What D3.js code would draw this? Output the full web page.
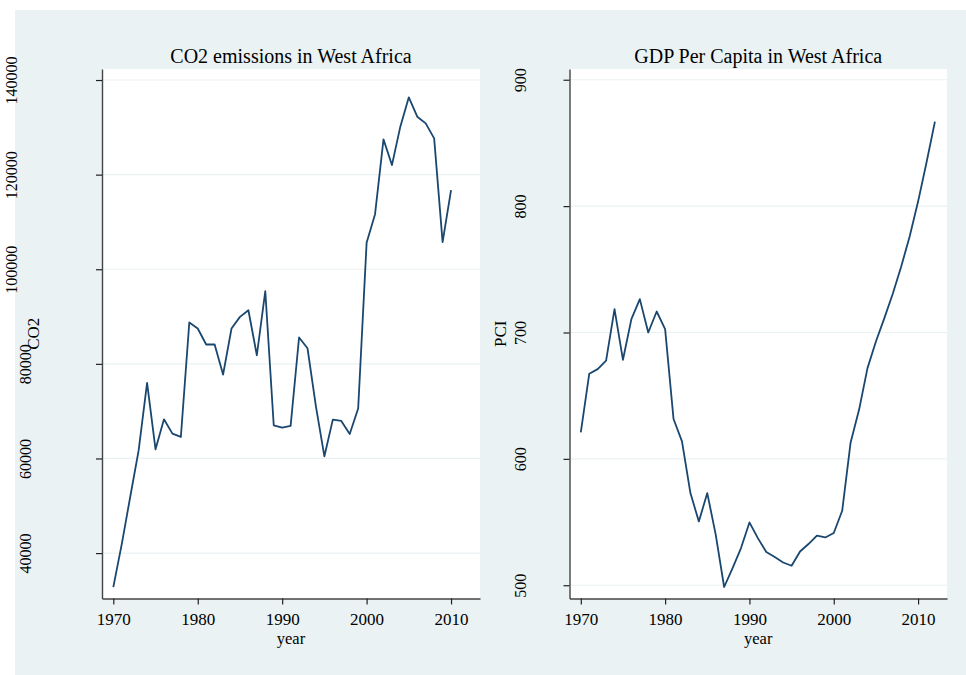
<!DOCTYPE html>
<html>
<head>
<meta charset="utf-8">
<script src="https://cdn.jsdelivr.net/npm/d3@7"></script>
<style>
  body { margin: 0; background: #fff; }
  text { font-family: "Liberation Serif", "Times New Roman", serif; fill: #000; }
</style>
</head>
<body>
<svg id="chart" width="966" height="675"></svg>
<script>
// years shared by both series (CO2 stops at 2010, PCI at 2012)
const years = [1970, 1971, 1972, 1973, 1974, 1975, 1976, 1977, 1978, 1979,
  1980, 1981, 1982, 1983, 1984, 1985, 1986, 1987, 1988, 1989,
  1990, 1991, 1992, 1993, 1994, 1995, 1996, 1997, 1998, 1999,
  2000, 2001, 2002, 2003, 2004, 2005, 2006, 2007, 2008, 2009,
  2010, 2011, 2012];

const co2 = [32800, 41900, 51850, 61700, 75960, 61940, 68280, 65260, 64550, 88740,
  87470, 84090, 84090, 77740, 87470, 89930, 91340, 81820, 95360, 67010,
  66530, 66880, 85570, 83300, 70970, 60460, 68220, 67930, 65180, 70550,
  105580, 111650, 127450, 122020, 130200, 136340, 132240, 130840, 127670, 105730,
  116730];

const pci = [620.9, 667.3, 671.0, 677.8, 718.5, 678.4, 710.6, 726.4, 700.0, 716.6,
  702.7, 631.5, 613.8, 572.9, 550.5, 572.9, 540.0, 498.6, 513.6, 529.4,
  549.7, 537.3, 526.3, 522.3, 518.0, 515.4, 526.7, 532.6, 539.2, 537.8,
  541.3, 558.9, 613.0, 638.8, 671.8, 692.9, 711.4, 730.6, 752.2, 776.0,
  803.6, 834.5, 866.9];

const xTicks = [1970, 1980, 1990, 2000, 2010];
const co2Ticks = [40000, 60000, 80000, 100000, 120000, 140000];
const pciTicks = [500, 600, 700, 800, 900];

const bg = "#eaf2f3";
const lineColor = "#1a476f";

const svg = d3.select("#chart");

// graph region background
svg.append("rect")
  .attr("x", 15).attr("y", 10)
  .attr("width", 951).attr("height", 665)
  .attr("fill", bg);

function drawPanel(opt) {
  const top = 69, bottom = 598.5;

  const x = d3.scaleLinear()
    .domain([1968.66, 2013.43])
    .range([opt.left, opt.right]);

  const y = d3.scaleLinear()
    .domain(opt.yDomain)
    .range([bottom, top]);

  // plot region
  svg.append("rect")
    .attr("x", opt.left).attr("y", top)
    .attr("width", opt.right - opt.left).attr("height", bottom - top)
    .attr("fill", "#fff");

  // gridlines
  svg.append("g")
    .selectAll("line")
    .data(opt.ticks)
    .enter()
    .append("line")
    .attr("x1", opt.left).attr("x2", opt.right)
    .attr("y1", d => y(d)).attr("y2", d => y(d))
    .attr("stroke", bg)
    .attr("stroke-width", 1.2);

  // x axis
  const gx = svg.append("g")
    .attr("transform", "translate(0," + bottom + ")")
    .call(d3.axisBottom(x).tickValues(xTicks).tickFormat(d3.format("d"))
      .tickSize(6).tickSizeOuter(0).tickPadding(8));
  gx.selectAll("text").style("font-size", "17px").style("font-family", null);

  // y axis with vertical labels
  const gy = svg.append("g")
    .attr("transform", "translate(" + opt.left + ",0)")
    .call(d3.axisLeft(y).tickValues(opt.ticks).tickFormat(d3.format("d"))
      .tickSize(6).tickSizeOuter(0));
  gy.selectAll("text")
    .style("font-size", "16px").style("font-family", null)
    .attr("x", 0).attr("dy", 0)
    .attr("text-anchor", "middle")
    .attr("transform", d => "translate(" + -(1.5 + 14 * String(d).length) + ",0) rotate(-90)");

  [gx, gy].forEach(g => {
    g.select(".domain").attr("stroke", "#444").attr("stroke-width", 1.4);
    g.selectAll(".tick line").attr("stroke", "#222").attr("stroke-width", 1.2);
  });

  // series line
  const pts = opt.values.map((v, i) => [years[i], v]);
  svg.append("path")
    .datum(pts)
    .attr("fill", "none")
    .attr("stroke", lineColor)
    .attr("stroke-width", 1.8)
    .attr("stroke-linejoin", "round")
    .attr("d", d3.line().x(d => x(d[0])).y(d => y(d[1])));

  // titles
  svg.append("text")
    .attr("x", (opt.left + opt.right) / 2).attr("y", 63)
    .attr("text-anchor", "middle")
    .style("font-size", "20px")
    .text(opt.title);

  svg.append("text")
    .attr("x", (opt.left + opt.right) / 2).attr("y", 643.5)
    .attr("text-anchor", "middle")
    .style("font-size", "16.5px")
    .text("year");

  svg.append("text")
    .attr("transform", "translate(" + (opt.left - 63.5) + "," + (top + bottom) / 2 + ") rotate(-90)")
    .attr("text-anchor", "middle")
    .style("font-size", "17px")
    .text(opt.yTitle);
}

drawPanel({
  left: 102, right: 480,
  yDomain: [30400, 142330],
  ticks: co2Ticks,
  values: co2,
  title: "CO2 emissions in West Africa",
  yTitle: "CO2"
});

drawPanel({
  left: 569.5, right: 947,
  yDomain: [489.5, 908.5],
  ticks: pciTicks,
  values: pci,
  title: "GDP Per Capita in West Africa",
  yTitle: "PCI"
});
</script>
</body>
</html>
